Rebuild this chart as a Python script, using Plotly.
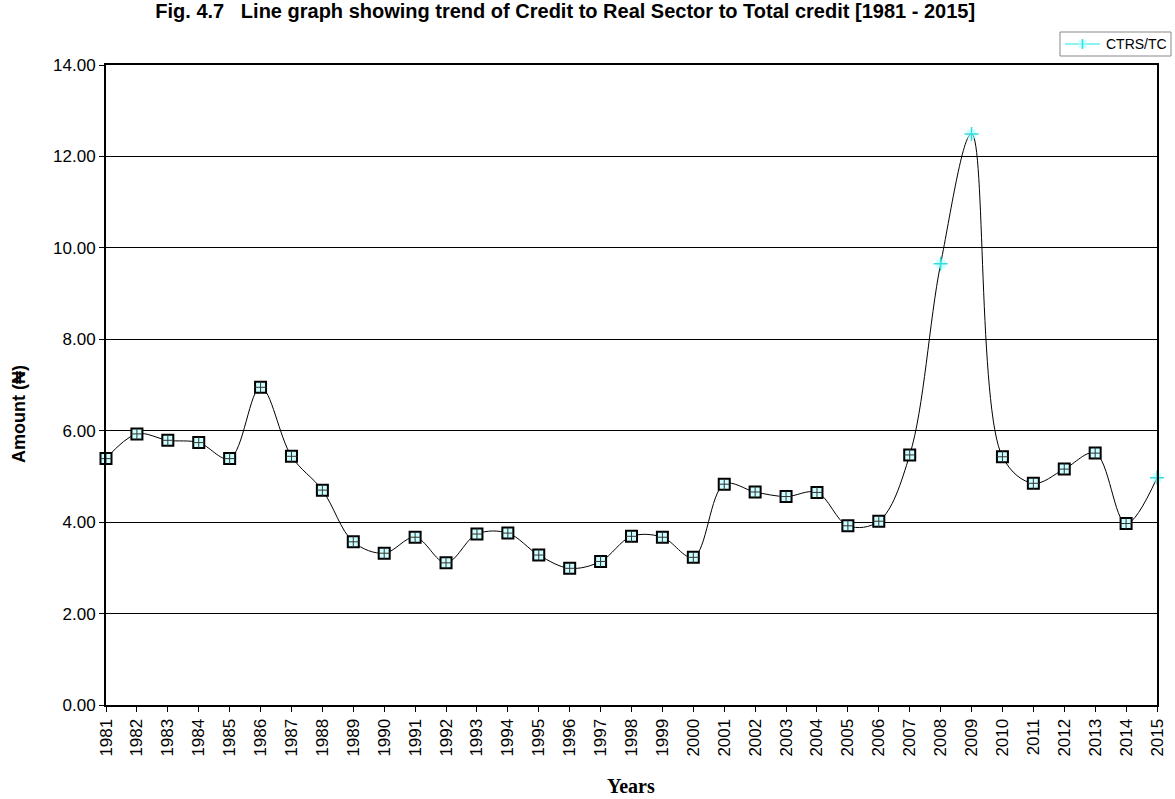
import plotly.graph_objects as go

years = list(range(1981, 2016))
ctrs_tc = [5.39, 5.93, 5.79, 5.74, 5.39, 6.95, 5.44, 4.70, 3.57, 3.32,
           3.67, 3.11, 3.74, 3.76, 3.28, 2.99, 3.14, 3.69, 3.67, 3.23,
           4.83, 4.66, 4.56, 4.65, 3.92, 4.02, 5.47, 9.65, 12.49, 5.43,
           4.85, 5.16, 5.51, 3.97, 4.97]
plus_years = [2008, 2009, 2015]
y_ticks = [0, 2, 4, 6, 8, 10, 12, 14]
series_name = "CTRS/TC"

sq_x = [x for x in years if x not in plus_years]
sq_y = [v for x, v in zip(years, ctrs_tc) if x not in plus_years]
pl_x = [x for x in years if x in plus_years]
pl_y = [v for x, v in zip(years, ctrs_tc) if x in plus_years]

fig = go.Figure()
fig.add_trace(go.Scatter(x=years, y=ctrs_tc, mode="lines", name=series_name,
                         line=dict(color="black", width=1, shape="spline", smoothing=1.0),
                         showlegend=False, hoverinfo="skip", cliponaxis=False))
fig.add_trace(go.Scatter(x=sq_x, y=sq_y, mode="markers", name=series_name,
                         marker=dict(symbol="square", size=11, color="#CCFFFF",
                                     line=dict(color="black", width=2)),
                         showlegend=False, cliponaxis=False))
fig.add_trace(go.Scatter(x=sq_x, y=sq_y, mode="markers",
                         marker=dict(symbol="cross-thin", size=8,
                                     line=dict(color="#333333", width=1)),
                         showlegend=False, hoverinfo="skip", cliponaxis=False))
fig.add_trace(go.Scatter(x=pl_x, y=pl_y, mode="markers",
                         marker=dict(symbol="square", size=9, color="rgba(170,255,255,0.6)",
                                     line=dict(width=0)),
                         showlegend=False, hoverinfo="skip", cliponaxis=False))
fig.add_trace(go.Scatter(x=pl_x, y=pl_y, mode="markers", name=series_name,
                         marker=dict(symbol="cross-thin", size=10,
                                     line=dict(color="#33DDDD", width=1.5)),
                         showlegend=False, cliponaxis=False))

# pixel -> paper helpers for the legend box
L, R, T, B = 106, 1157, 65, 705
def px(x):
    return (x - L) / (R - L)
def py(y):
    return (B - y) / (B - T)

shapes = [
    dict(type="rect", xref="paper", yref="paper", x0=px(1060), x1=px(1171), y0=py(56), y1=py(32),
         line=dict(color="#888888", width=1), fillcolor="white", layer="above"),
    dict(type="line", xref="paper", yref="paper", x0=px(1065), x1=px(1100), y0=py(44), y1=py(44),
         line=dict(color="#66EEEE", width=1.5), layer="above"),
    dict(type="rect", xref="paper", yref="paper", x0=px(1078.5), x1=px(1086.5), y0=py(48), y1=py(40),
         line=dict(width=0), fillcolor="rgba(170,255,255,0.6)", layer="above"),
    dict(type="line", xref="paper", yref="paper", x0=px(1082.5), x1=px(1082.5), y0=py(49), y1=py(39),
         line=dict(color="#33DDDD", width=1.5), layer="above"),
]

annotations = [
    dict(text=series_name, xref="paper", yref="paper", x=px(1104), y=py(44),
         xanchor="left", yanchor="middle", showarrow=False,
         font=dict(family="Liberation Sans, Arial", size=14, color="black")),
    dict(text="<b>Amount (₦)</b>", xref="paper", yref="paper", x=px(19), y=py(414),
         xanchor="center", yanchor="middle", textangle=-90, showarrow=False,
         font=dict(family="Liberation Sans, Arial", size=18, color="black")),
    dict(text="<b>Years</b>", xref="paper", yref="paper", x=px(631), y=py(786),
         xanchor="center", yanchor="middle", showarrow=False,
         font=dict(family="Liberation Serif, Times New Roman", size=20, color="black")),
]

fig.update_layout(
    width=1175, height=799,
    margin=dict(l=L, r=1175 - R, t=T, b=799 - B),
    paper_bgcolor="white", plot_bgcolor="white",
    font=dict(family="Liberation Sans, Arial", size=16, color="black"),
    showlegend=False,
    title=dict(text="<b>Fig. 4.7   Line graph showing trend of Credit to Real Sector to Total credit [1981 - 2015]</b>",
               x=0.481, xanchor="center", y=0.995, yanchor="top",
               font=dict(family="Liberation Sans, Arial", size=20)),
    shapes=shapes,
    annotations=annotations,
    xaxis=dict(range=[1981, 2015], tickmode="array", tickvals=years,
               ticktext=[str(y) for y in years], tickangle=-90,
               ticks="outside", ticklen=5, tickcolor="black",
               tickfont=dict(size=17), automargin=False,
               showgrid=False, showline=True, linecolor="black", linewidth=2,
               mirror=True, zeroline=False),
    yaxis=dict(range=[0, 14], tickmode="array", tickvals=y_ticks,
               ticktext=["%.2f" % v for v in y_ticks],
               ticks="outside", ticklen=5, tickcolor="black",
               tickfont=dict(size=17), automargin=False,
               showgrid=True, gridcolor="black", gridwidth=1,
               showline=True, linecolor="black", linewidth=2, mirror=True,
               zeroline=False),
)

fig.write_html("out.html")
